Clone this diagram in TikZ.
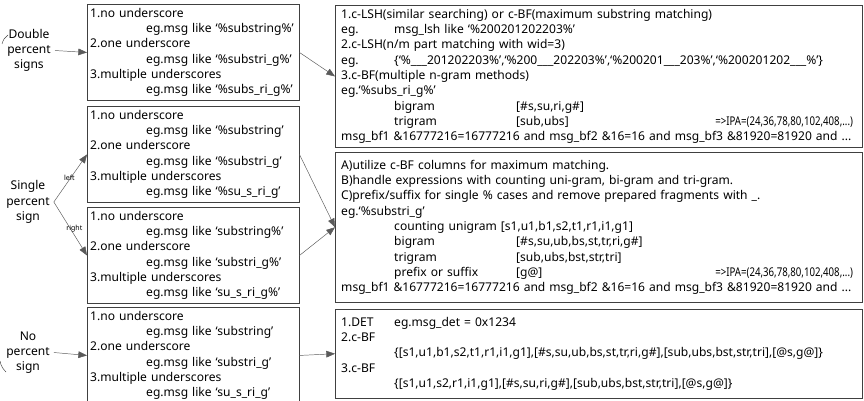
\documentclass[tikz,border=0pt]{standalone}
\usepackage{fontspec}
\setmainfont{Noto Sans}
\usetikzlibrary{arrows.meta}

\definecolor{boxgray}{RGB}{64,64,64}
\definecolor{arrowgray}{RGB}{90,90,90}

\newcommand{\colbox}[2]{\makebox[#1][l]{#2}}
\newcommand{\ipa}{\scalebox{0.8}[1]{=>\textbf{IPA}=(24,36,78,80,102,408,...)}}

\tikzset{
  casebox/.style={draw=boxgray, anchor=north west, align=left,
    text width=6.18cm, inner xsep=0.09cm, minimum height=2.73cm},
  methodbox/.style={draw=boxgray, anchor=north west, align=left,
    text width=15.45cm, inner xsep=0.18cm},
  tag/.style={align=center},
  flow/.style={draw=arrowgray, -{Triangle[length=0.26cm,width=0.2cm]}},
  side/.style={font=\fontsize{6}{7}\selectfont, inner sep=1pt}
}

\begin{document}
\begin{tikzpicture}[x=0.03cm, y=-0.03cm, font=\fontsize{10.3}{13.07}\selectfont]
        \useasboundingbox (0,0) rectangle (864,401);

        % kinds of pattern
        \node[tag] (dbltag) at (29,50.5) {Double\\percent\\signs};
        \node[tag] (sgltag) at (28,202) {Single\\percent\\sign};
        \node[tag] (notag) at (28,352.5) {No\\percent\\sign};
        \draw[boxgray] (8,35) .. controls (5,37) and (3,40) .. (2,44);
        \draw[boxgray] (0,361) .. controls (1,366) and (3,369) .. (6,372);

        % cases
        \node[casebox] (dblcase) at (87,4) {1.no underscore\\
                \hspace*{1.68cm}eg.msg like ‘\%substring\%’\\
                2.one underscore\\
                \hspace*{1.68cm}eg.msg like ‘\%substri\_g\%’\\
                3.multiple underscores\\
                \hspace*{1.68cm}eg.msg like ‘\%subs\_ri\_g\%’};
        \node[casebox] (leftcase) at (87,106) {1.no underscore\\
                \hspace*{1.68cm}eg.msg like ‘\%substring’\\
                2.one underscore\\
                \hspace*{1.68cm}eg.msg like ‘\%substri\_g’\\
                3.multiple underscores\\
                \hspace*{1.68cm}eg.msg like ‘\%su\_s\_ri\_g’};
        \node[casebox] (rightcase) at (87,207) {1.no underscore\\
                \hspace*{1.68cm}eg.msg like ‘substring\%’\\
                2.one underscore\\
                \hspace*{1.68cm}eg.msg like ‘substri\_g\%’\\
                3.multiple underscores\\
                \hspace*{1.68cm}eg.msg like ‘su\_s\_ri\_g\%’};
        \node[casebox] (nocase) at (87,307) {1.no underscore\\
                \hspace*{1.68cm}eg.msg like ‘substring’\\
                2.one underscore\\
                \hspace*{1.68cm}eg.msg like ‘substri\_g’\\
                3.multiple underscores\\
                \hspace*{1.68cm}eg.msg like ‘su\_s\_ri\_g’};

        % methods
        \node[methodbox, minimum height=4.2cm] (lshbox) at (335,5) {1.c-LSH(similar searching) or c-BF(maximum substring matching)\\
                \colbox{1.59cm}{eg.}msg\_lsh like ‘\%200201202203\%’\\
                2.c-LSH(n/m part matching with wid=3)\\
                \colbox{1.59cm}{eg.}\{‘\%\_\_\_201202203\%’,‘\%200\_\_\_202203\%’,‘\%200201\_\_\_203\%’,‘\%200201202\_\_\_\%’\}\\
                3.c-BF(multiple n-gram methods)\\
                eg.‘\%subs\_ri\_g\%’\\
                \hspace*{1.59cm}\colbox{3.66cm}{bigram}[\#s,su,ri,g\#]\\
                \hspace*{1.59cm}\colbox{3.66cm}{trigram}\colbox{5.97cm}{[sub,ubs]}\ipa\\
                msg\_bf1 \&16777216=16777216 and msg\_bf2 \&16=16 and msg\_bf3 \&81920=81920 and ...};
        \node[methodbox, minimum height=4.5cm] (bfbox) at (335,152) {A)utilize c-BF columns for maximum matching.\\
                B)handle expressions with counting uni-gram, bi-gram and tri-gram.\\
                C)prefix/suffix for single \% cases and remove prepared fragments with \_.\\
                eg.‘\%substri\_g’\\
                \hspace*{1.59cm}counting unigram [s1,u1,b1,s2,t1,r1,i1,g1]\\
                \hspace*{1.59cm}\colbox{3.66cm}{bigram}[\#s,su,ub,bs,st,tr,ri,g\#]\\
                \hspace*{1.59cm}\colbox{3.66cm}{trigram}[sub,ubs,bst,str,tri]\\
                \hspace*{1.59cm}\colbox{3.66cm}{prefix or suffix}\colbox{5.97cm}{[g@]}\ipa\\
                msg\_bf1 \&16777216=16777216 and msg\_bf2 \&16=16 and msg\_bf3 \&81920=81920 and ...};
        \node[methodbox, minimum height=2.67cm] (detbox) at (335,309) {\colbox{1.59cm}{1.DET}eg.msg\_det = 0x1234\\
                2.c-BF\\
                \hspace*{1.59cm}\{[s1,u1,b1,s2,t1,r1,i1,g1],[\#s,su,ub,bs,st,tr,ri,g\#],[sub,ubs,bst,str,tri],[@s,g@]\}\\
                3.c-BF\\
                \hspace*{1.59cm}\{[s1,u1,s2,r1,i1,g1],[\#s,su,ri,g\#],[sub,ubs,bst,str,tri],[@s,g@]\}};

        % arrows
        \draw[flow] (dbltag.east) -- (dblcase.west);
        \draw[flow] (sgltag.east) -- node[side, pos=0.5, xshift=-0.03cm] {left} (leftcase.west);
        \draw[flow] (sgltag.east) -- node[side, pos=0.5, xshift=0.12cm] {right} (rightcase.west);
        \draw[flow] (notag.east) -- (nocase.west);
        \draw[flow] (dblcase.east) -- (lshbox.west);
        \draw[flow] (leftcase.east) -- (bfbox.west);
        \draw[flow] (rightcase.east) -- (bfbox.west);
        \draw[flow] (nocase.east) -- (detbox.west);
\end{tikzpicture}
\end{document}
